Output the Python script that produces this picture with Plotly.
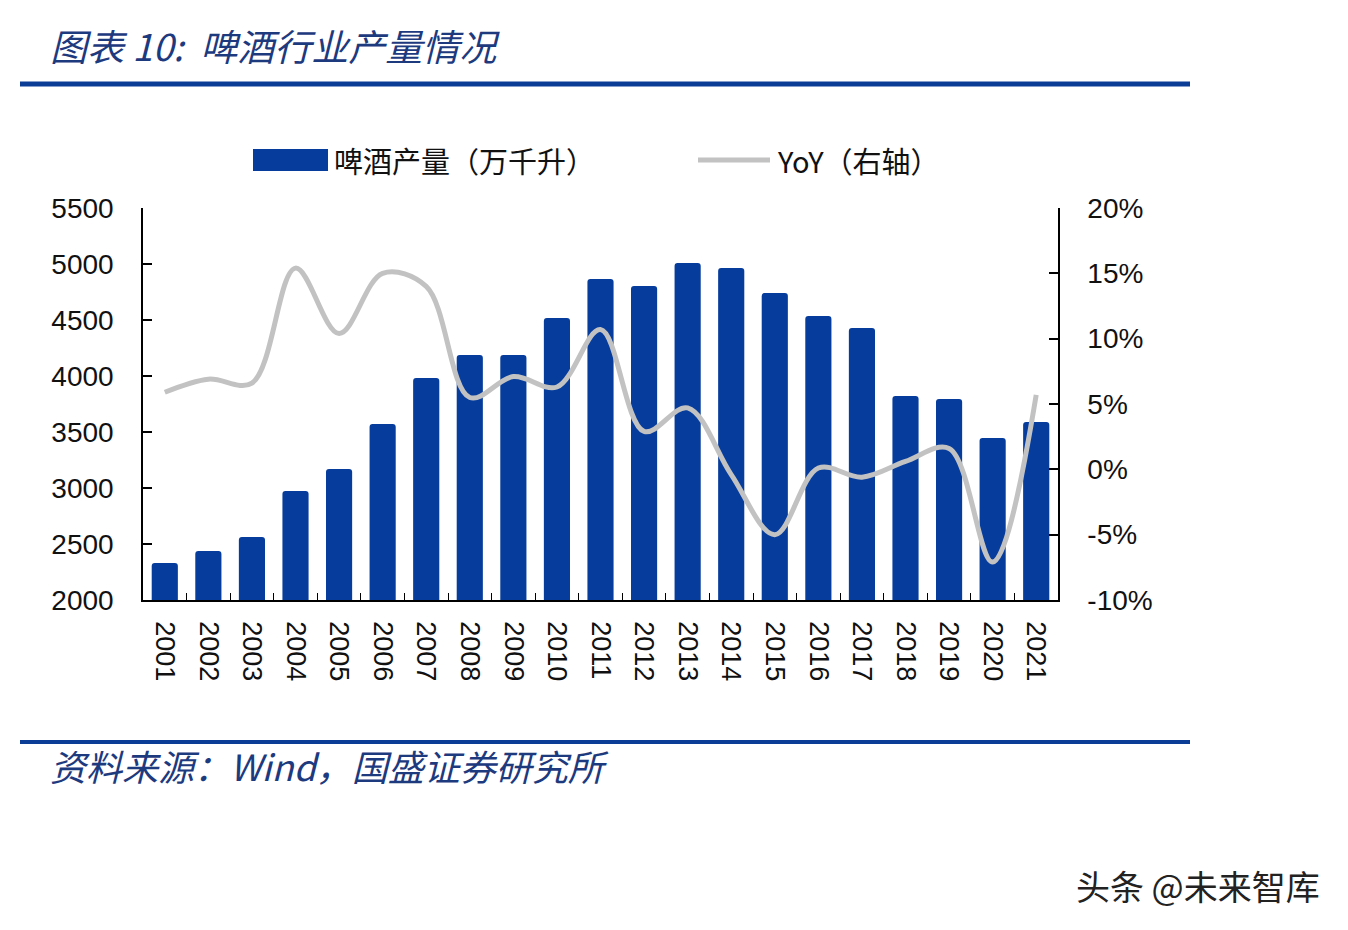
import plotly.graph_objects as go

years = [str(y) for y in range(2001, 2022)]
production = [2330, 2437, 2562, 2973, 3170, 3571, 3982, 4188, 4188, 4518, 4866,
              4804, 5009, 4964, 4741, 4536, 4429, 3821, 3795, 3446, 3589]
yoy = [5.9, 6.9, 6.6, 15.4, 10.4, 15.0, 14.0, 5.5, 7.1, 6.3, 10.7,
       2.9, 4.7, -0.4, -5.0, 0.1, -0.6, 0.6, 1.6, -7.1, 5.7]
left_ticks = [2000, 2500, 3000, 3500, 4000, 4500, 5000, 5500]
right_ticks = [-10, -5, 0, 5, 10, 15, 20]
right_labels = ["-10%", "-5%", "0%", "5%", "10%", "15%", "20%"]

OFF = 8  # browser body margin
W, H = 1348 - OFF, 930 - OFF
L, R, T, B = 143 - OFF, 1058 - OFF, 208 - OFF, 600 - OFF
PW, PH = R - L, B - T

def px(x):
    return (x - OFF - L) / PW

def py(y):
    return (B - (y - OFF)) / PH

NAVY = "#0B3C96"
BAR = "#063C9C"
LINE = "#C2C2C2"
NUM_FONT = "Liberation Sans, Arial, sans-serif"
CJK = "Noto Sans CJK SC, sans-serif"

fig = go.Figure()
fig.add_trace(go.Bar(x=years, y=production, name="啤酒产量（万千升）",
                     marker=dict(color=BAR, line=dict(width=0), cornerradius=3),
                     width=0.6, yaxis="y"))
fig.add_trace(go.Scatter(x=years, y=yoy, name="YoY（右轴）", mode="lines",
                         line=dict(color=LINE, width=5, shape="spline", smoothing=1.0),
                         yaxis="y2"))

shapes = []
annotations = []
# top and bottom rules
shapes.append(dict(type="line", xref="paper", yref="paper", x0=px(20), x1=px(1190),
                   y0=py(84), y1=py(84), line=dict(color=NAVY, width=5)))
shapes.append(dict(type="line", xref="paper", yref="paper", x0=px(20), x1=px(1190),
                   y0=py(742), y1=py(742), line=dict(color=NAVY, width=4)))
# legend swatches
shapes.append(dict(type="rect", xref="paper", yref="paper", x0=px(253), x1=px(328),
                   y0=py(171), y1=py(149), fillcolor=BAR, line=dict(width=0)))
shapes.append(dict(type="line", xref="paper", yref="paper", x0=px(698), x1=px(770),
                   y0=py(160), y1=py(160), line=dict(color=LINE, width=5)))

annotations.append(dict(text="<i>图表 10:  啤酒行业产量情况</i>", xref="paper", yref="paper",
                        x=px(48), y=py(45), xanchor="left", yanchor="middle", showarrow=False,
                        font=dict(family=CJK, size=37, color="#1E3A7E")))
annotations.append(dict(text="啤酒产量（万千升）", xref="paper", yref="paper",
                        x=px(332), y=py(160), xanchor="left", yanchor="middle", showarrow=False,
                        font=dict(family=CJK, size=29, color="#111111")))
annotations.append(dict(text="YoY（右轴）", xref="paper", yref="paper",
                        x=px(775), y=py(160), xanchor="left", yanchor="middle", showarrow=False,
                        font=dict(family=CJK, size=29, color="#111111")))
annotations.append(dict(text="<i>资料来源：Wind，国盛证券研究所</i>", xref="paper", yref="paper",
                        x=px(48), y=py(765), xanchor="left", yanchor="middle", showarrow=False,
                        font=dict(family=CJK, size=36, color="#1E3A7E")))
annotations.append(dict(text="头条 @未来智库", xref="paper", yref="paper",
                        x=px(1074), y=py(885), xanchor="left", yanchor="middle", showarrow=False,
                        font=dict(family=CJK, size=34, color="#222222")))

fig.update_layout(
    width=W, height=H,
    margin=dict(l=L, r=W - R, t=T, b=H - B, pad=0),
    paper_bgcolor="white", plot_bgcolor="white",
    showlegend=False,
    bargap=0.4,
    shapes=shapes, annotations=annotations,
    xaxis=dict(type="category", categoryorder="array", categoryarray=years,
               tickangle=90, tickfont=dict(family=NUM_FONT, size=27, color="#111111"),
               showline=True, linecolor="black", linewidth=1.5,
               ticks="inside", ticklen=7, tickwidth=1.2, tickcolor="black",
               tickson="boundaries", ticklabelstandoff=14,
               showgrid=False, zeroline=False),
    yaxis=dict(range=[2000, 5500], tickvals=left_ticks,
               tickfont=dict(family=NUM_FONT, size=28, color="#111111"),
               showline=True, linecolor="black", linewidth=1.5,
               ticks="inside", ticklen=9, tickwidth=1.5, tickcolor="black",
               ticklabelstandoff=22, showgrid=False, zeroline=False),
    yaxis2=dict(range=[-10, 20], tickvals=right_ticks, ticktext=right_labels,
                overlaying="y", side="right",
                tickfont=dict(family=NUM_FONT, size=28, color="#111111"),
                showline=True, linecolor="black", linewidth=1.5,
                ticks="inside", ticklen=9, tickwidth=1.5, tickcolor="black",
                ticklabelstandoff=22, showgrid=False, zeroline=False),
)

fig.write_html("out.html")
